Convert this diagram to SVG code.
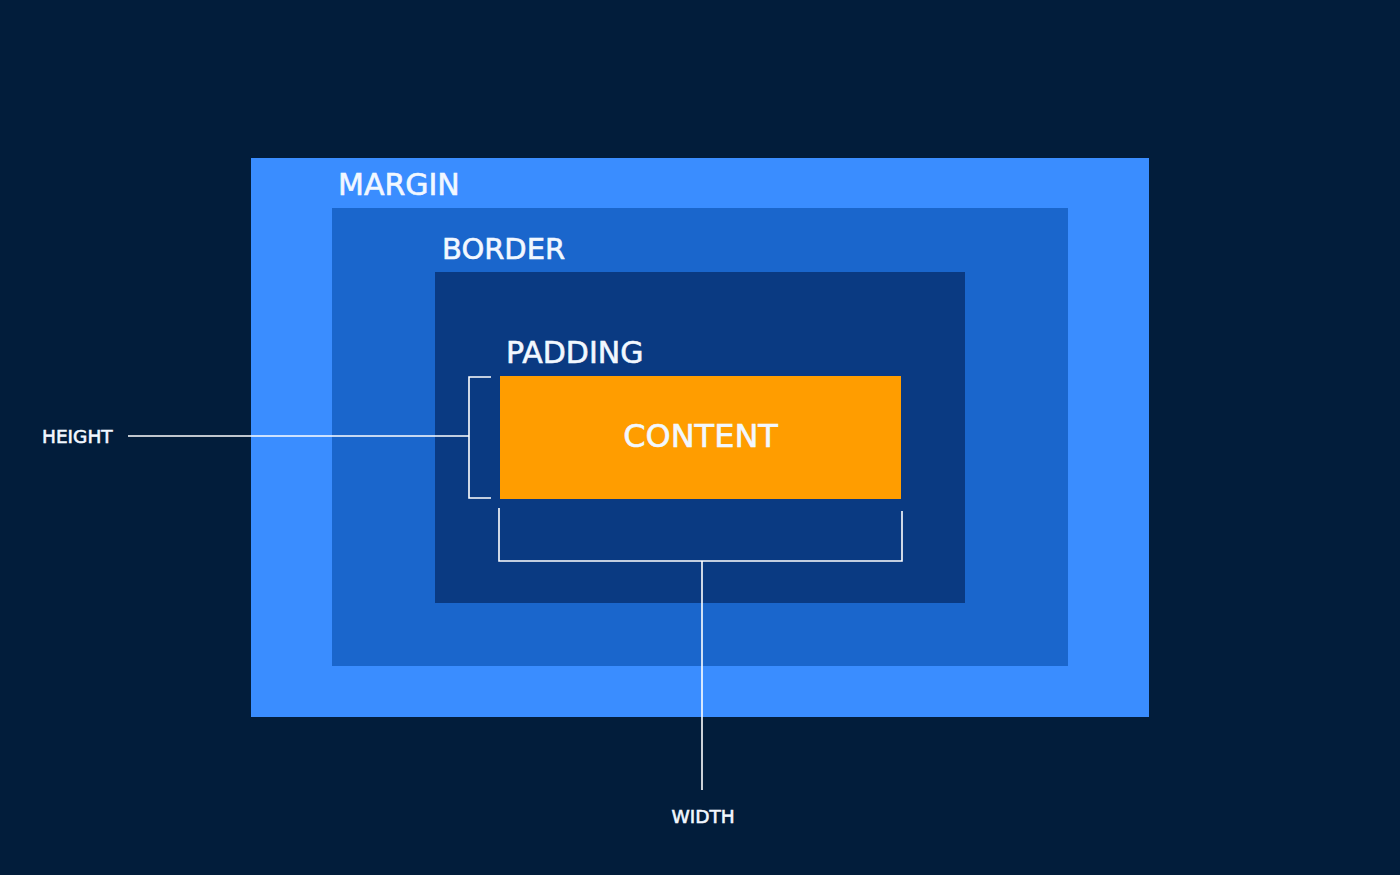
<svg xmlns="http://www.w3.org/2000/svg" width="1400" height="875" viewBox="0 0 1400 875">
<style>
.lbl{font-family:"DejaVu Sans",Verdana,sans-serif;fill:#f2f8ff;stroke:#f2f8ff;stroke-width:0.6}
.ln{fill:none;stroke:#ffffff;stroke-width:1.6}
</style>
<rect width="1400" height="875" fill="#021d3b"/>
<g id="margin"><rect x="251" y="158" width="898" height="559" fill="#3a8dff"/><text class="lbl" x="338" y="195" font-size="30">MARGIN</text></g>
<g id="border"><rect x="332" y="208" width="736" height="458" fill="#1a66cc"/><text class="lbl" x="442" y="259" font-size="29">BORDER</text></g>
<g id="padding"><rect x="435" y="272" width="530" height="331" fill="#0a3a82"/><text class="lbl" x="506" y="363" font-size="30">PADDING</text></g>
<g id="content"><rect x="500" y="376" width="401" height="123" fill="#ff9d00"/><text class="lbl" x="700.5" y="447" font-size="32" text-anchor="middle">CONTENT</text></g>
<g id="height"><text class="lbl" x="42" y="443" font-size="18.5">HEIGHT</text></g>
<g id="width"><text class="lbl" x="703" y="823" font-size="18.5" text-anchor="middle">WIDTH</text></g>
<g id="connectors">
<path class="ln" d="M491 377 H469 V498 H491"/>
<path class="ln" d="M128 436 H469"/>
<path class="ln" d="M499 508 V561 H902 V511"/>
<path class="ln" d="M702 561 V790"/>
</g>
</svg>
